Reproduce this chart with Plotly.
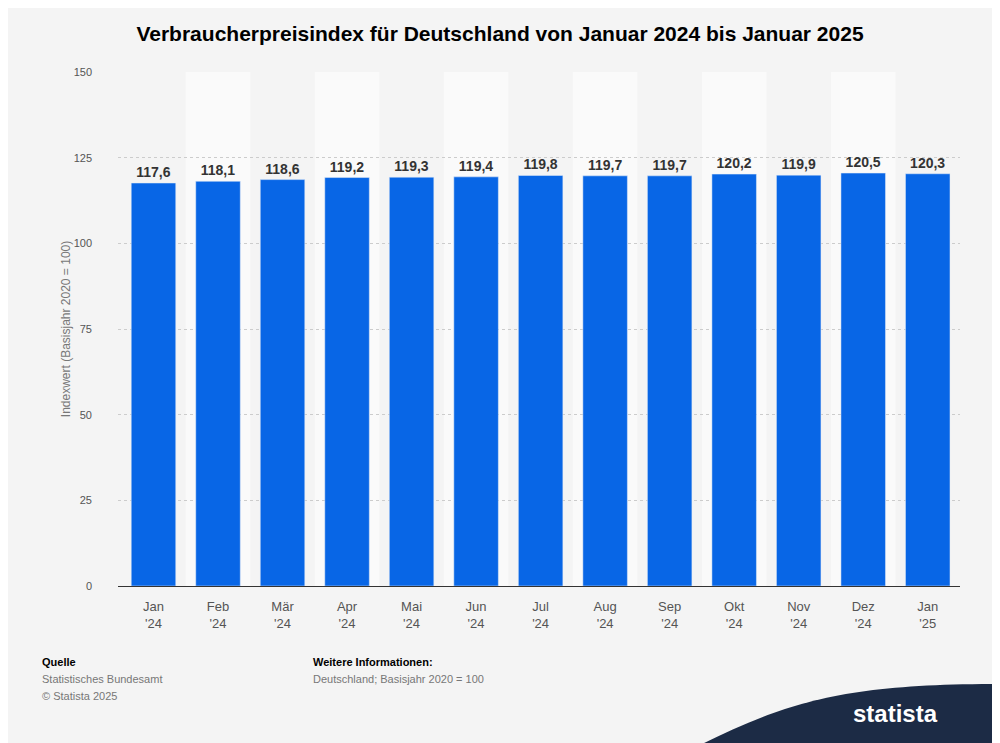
import plotly.graph_objects as go

months = ["Jan<br>'24","Feb<br>'24","Mär<br>'24","Apr<br>'24","Mai<br>'24","Jun<br>'24","Jul<br>'24","Aug<br>'24","Sep<br>'24","Okt<br>'24","Nov<br>'24","Dez<br>'24","Jan<br>'25"]
values = [117.6,118.1,118.6,119.2,119.3,119.4,119.8,119.7,119.7,120.2,119.9,120.5,120.3]
labels = [f"{v:.1f}".replace(".", ",") for v in values]
yticks = [0,25,50,75,100,125,150]

OX, OY = 8, 8  # page offset compensation
L, R, T, B = 118 - OX, 40 + OX, 72 - OY, 157 + OY
PW, PH = 1000 - L - R, 743 - T - B

fig = go.Figure(go.Bar(
    x=list(range(len(months))), y=values, text=labels, textposition="outside",
    textfont=dict(family="Arial", size=14, color="#333333"),
    marker=dict(color="#0866e6"), width=0.69, cliponaxis=False,
    texttemplate="<b>%{text}</b>"))

shapes = []
for i in range(len(months)):
    if i % 2 == 1:
        shapes.append(dict(type="rect", xref="x", yref="y", x0=i-0.5, x1=i+0.5, y0=0, y1=150,
                           fillcolor="#fafafa", line_width=0, layer="below"))
fig.update_layout(
    width=1000, height=743, paper_bgcolor="#f4f4f4", plot_bgcolor="#f4f4f4",
    margin=dict(l=L, r=R, t=T, b=B), shapes=shapes, showlegend=False,
    font=dict(family="Arial", color="#666666"),
    title=dict(text="<b>Verbraucherpreisindex für Deutschland von Januar 2024 bis Januar 2025</b>",
               x=(500 - OX - L) / PW, xanchor="center", xref="paper", y=(743 - 34 + OY) / 743,
               yanchor="middle", font=dict(size=21, color="#000000")),
    xaxis=dict(tickvals=list(range(len(months))), ticktext=months, range=[-0.55, 12.5],
               showline=True, linecolor="#333333", tickfont=dict(size=13, color="#555555"), ticks="",
               ticklabelstandoff=8),
    yaxis=dict(range=[0,150], tickvals=yticks, gridcolor="#cccccc", griddash="dot",
               zeroline=False, tickfont=dict(size=11, color="#555555"), ticklabelstandoff=25,
               title=dict(text="Indexwert (Basisjahr 2020 = 100)", font=dict(size=12, color="#777777"), standoff=0)),
)

def px(x): return (x - OX - L) / PW
def py(y): return (743 - y + OY - B) / PH

fig.add_shape(type="path", xref="paper", yref="paper", layer="above", fillcolor="#1c2b45", line_width=0,
              path=f"M {px(700)} {py(745)} C {px(790)} {py(700)}, {px(850)} {py(684)}, {px(1000)} {py(684)} "
                   f"L {px(1000)} {py(745)} Z")
ann = [
    (40, 662, "<b>Quelle</b>", "#000000"),
    (40, 679, "Statistisches Bundesamt", "#777777"),
    (40, 696, "© Statista 2025", "#777777"),
    (311, 662, "<b>Weitere Informationen:</b>", "#000000"),
    (311, 679, "Deutschland; Basisjahr 2020 = 100", "#777777"),
]
for x, y, t, c in ann:
    fig.add_annotation(xref="paper", yref="paper", x=px(x), y=py(y), text=t,
                       showarrow=False, xanchor="left", yanchor="middle", font=dict(size=11, color=c))
fig.add_annotation(xref="paper", yref="paper", x=px(940), y=py(713), text="<b>statista</b>",
                   showarrow=False, xanchor="right", yanchor="middle", font=dict(size=24, color="white"))
fig.write_html("out.html")
